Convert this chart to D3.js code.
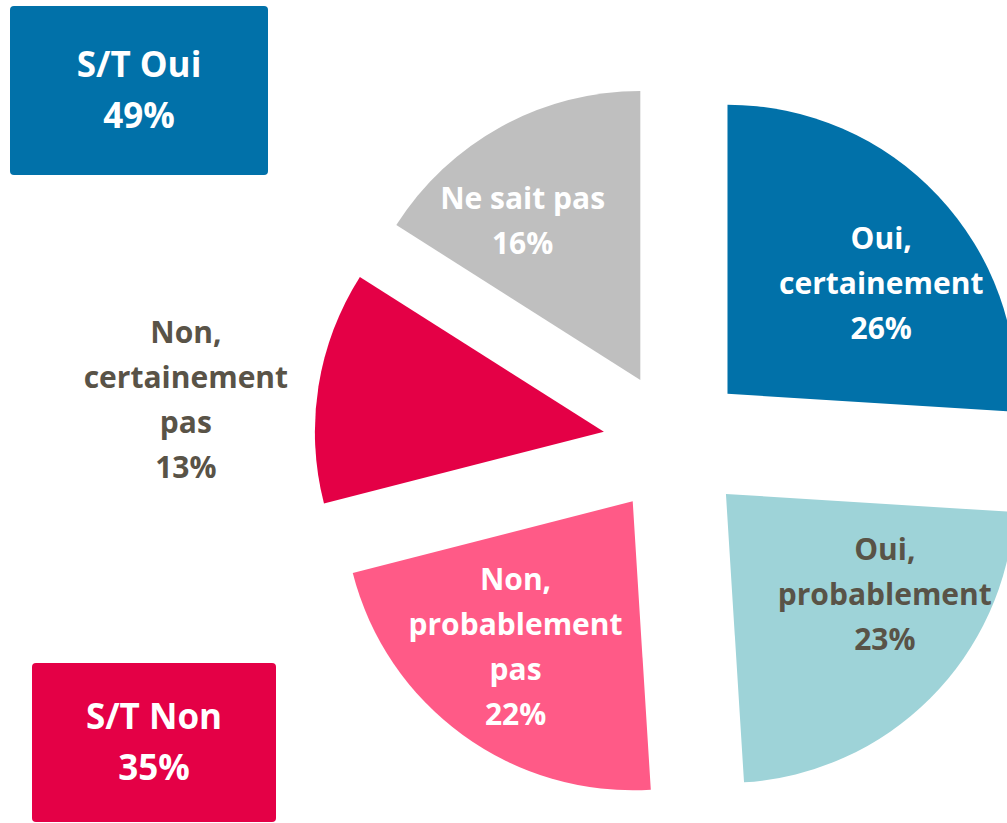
<!DOCTYPE html>
<html>
<head>
<meta charset="utf-8">
<script src="https://cdn.jsdelivr.net/npm/d3@7"></script>
<style>
  body { margin: 0; background: #fff; }
  text { font-family: "Open Sans", Lato, sans-serif; font-weight: bold; }
</style>
</head>
<body>
<script>
// Data
var categories = ["Oui, certainement", "Oui, probablement", "Non, probablement pas", "Non, certainement pas", "Ne sait pas"];
var values = [26, 23, 22, 13, 16];
var labelLines = [["Oui,", "certainement"], ["Oui,", "probablement"], ["Non,", "probablement", "pas"], ["Non,", "certainement", "pas"], ["Ne sait pas"]];
var summaryLabels = ["S/T Oui", "S/T Non"];
var summaryValues = [49, 35];

// Styles / layout
var colors = ["#0171a9", "#9ed3d8", "#ff5a87", "#e40046", "#bfbfbf"];
var textColors = ["#fff", "#595347", "#fff", "#595347", "#fff"];
var summaryColors = ["#0171a9", "#e40046"];
// label centre: shift from slice bisector (degrees) and distance from pie centre
var labelShift = [5.4, -9.1, 2, -4, -5.7];
var labelRadius = [261, 259, 259, 491, 269];

var width = 1007, height = 823;
var cx = 675, cy = 443, radius = 289, explode = 72, lineH = 45;

var svg = d3.select("body")
  .append("svg")
    .attr("width", width)
    .attr("height", height);

var pie = d3.pie().sort(null).value(function(d) { return d; });
var arcs = pie(values);
var arc = d3.arc().innerRadius(0).outerRadius(radius);

var g = svg.append("g")
  .attr("transform", "translate(" + cx + "," + cy + ")");

// slices, pushed out along their bisector
g.selectAll("path")
  .data(arcs)
  .enter()
  .append("path")
    .attr("d", arc)
    .attr("fill", function(d, i) { return colors[i]; })
    .attr("transform", function(d) {
      var a = (d.startAngle + d.endAngle) / 2;
      return "translate(" + (Math.sin(a) * explode) + "," + (-Math.cos(a) * explode) + ")";
    });

// labels
g.selectAll("text.lbl")
  .data(arcs)
  .enter()
  .append("text")
    .attr("class", "lbl")
    .attr("text-anchor", "middle")
    .style("font-size", "30px")
    .attr("fill", function(d, i) { return textColors[i]; })
    .each(function(d, i) {
      var a = (d.startAngle + d.endAngle) / 2 + labelShift[i] * Math.PI / 180;
      var x = Math.sin(a) * labelRadius[i], y = -Math.cos(a) * labelRadius[i];
      var lines = labelLines[i].concat([values[i] + "%"]);
      var y0 = y - (lines.length - 1) * lineH / 2;
      var t = d3.select(this);
      lines.forEach(function(l, k) {
        t.append("tspan")
          .attr("x", x)
          .attr("y", y0 + k * lineH)
          .attr("dy", "0.35em")
          .text(l);
      });
    });

// summary boxes
var boxes = [{x: 10, y: 6, w: 258, h: 169}, {x: 32, y: 663, w: 244, h: 159}];
boxes.forEach(function(b, i) {
  svg.append("rect")
    .attr("x", b.x).attr("y", b.y)
    .attr("width", b.w).attr("height", b.h)
    .attr("rx", 4)
    .attr("fill", summaryColors[i]);
  var t = svg.append("text")
    .attr("text-anchor", "middle")
    .attr("fill", "#fff")
    .style("font-size", "35px");
  var mid = b.y + b.h / 2;
  [summaryLabels[i], summaryValues[i] + "%"].forEach(function(l, k) {
    t.append("tspan")
      .attr("x", b.x + b.w / 2)
      .attr("y", mid - 25.5 + k * 51)
      .attr("dy", "0.35em")
      .text(l);
  });
});
</script>
</body>
</html>
